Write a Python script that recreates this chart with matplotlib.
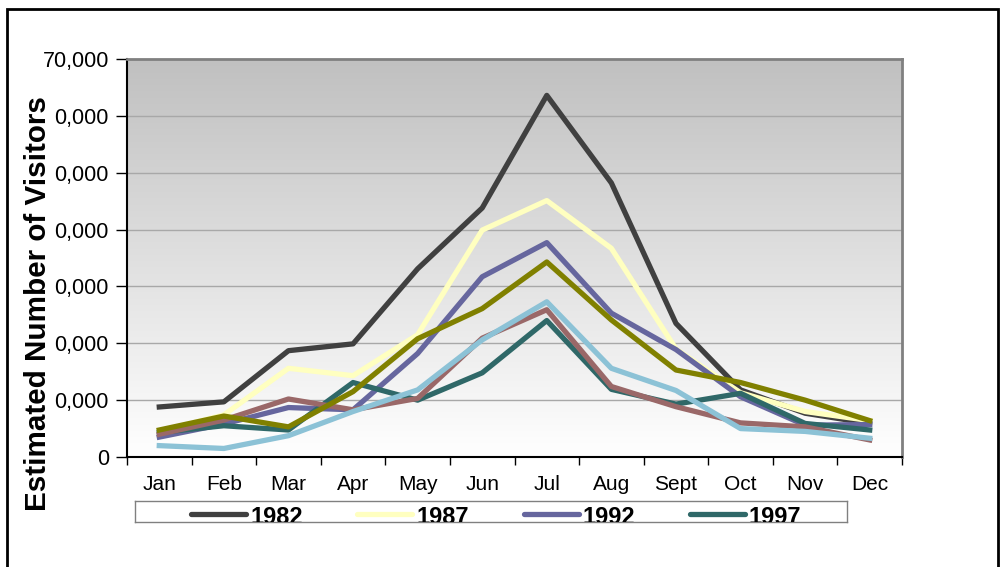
import matplotlib
matplotlib.use("Agg")
import matplotlib.pyplot as plt
import numpy as np
from matplotlib.colors import LinearSegmentedColormap
from matplotlib.patches import Rectangle

plt.rcParams["font.family"] = ["Liberation Sans", "DejaVu Sans"]

months = ["Jan", "Feb", "Mar", "Apr", "May", "Jun",
          "Jul", "Aug", "Sept", "Oct", "Nov", "Dec"]

visitors_1982 = [8800, 9700, 18700, 19900, 33100, 43800, 63600, 48200, 23500, 11800, 7700, 5900]
visitors_1987 = [4500, 7400, 15600, 14300, 21500, 39900, 45100, 36700, 19000, 11300, 8000, 6400]
visitors_1992 = [3500, 5800, 8700, 8300, 18200, 31700, 37700, 25300, 18900, 10600, 5600, 5700]
visitors_1997 = [4300, 5500, 4750, 13100, 10000, 14800, 24000, 11900, 9300, 11200, 5900, 4750]
visitors_2002 = [4000, 6500, 10200, 8300, 10300, 20900, 25900, 12400, 8850, 6000, 5300, 3000]
visitors_2007 = [4750, 7200, 5300, 11500, 20800, 26100, 34300, 24100, 15300, 13100, 10000, 6400]
visitors_2012 = [2000, 1500, 3750, 8000, 11800, 20600, 27300, 15600, 11700, 5000, 4500, 3300]

series_names = ["1982", "1987", "1992", "1997", "2002", "2007", "2012"]
series_values = [visitors_1982, visitors_1987, visitors_1992, visitors_1997,
                 visitors_2002, visitors_2007, visitors_2012]
series_colors = ["#404040", "#ffffc0", "#66669e", "#2f6868",
                 "#9a6868", "#808000", "#8cc2d6"]

# only the first four years fit in the legend strip
legend_names = series_names[:4]

y_ticks = [0, 10000, 20000, 30000, 40000, 50000, 60000, 70000]
y_tick_labels = ["0", "0,000", "0,000", "0,000", "0,000", "0,000", "0,000", "70,000"]

fig = plt.figure(figsize=(10, 5.67), dpi=100)
fig.patch.set_facecolor("white")

# outer chart border (bottom edge runs off the canvas)
fig.patches.append(Rectangle((7 / 1000, -0.05), 991 / 1000, 1.05 - 9 / 567,
                             transform=fig.transFigure, fill=False,
                             edgecolor="black", linewidth=2))

ax = fig.add_axes([127 / 1000, 1 - 457 / 567, 775 / 1000, 398 / 567])

x = np.arange(len(months))

# grey-to-white plot area fill
fill_cmap = LinearSegmentedColormap.from_list("plotfill", ["#c0c0c0", "#ffffff"])
ax.imshow(np.linspace(0, 1, 256).reshape(-1, 1), cmap=fill_cmap, aspect="auto",
          extent=[-0.5, len(months) - 0.5, 0, 70000], origin="upper", zorder=-2)

for values, color in zip(series_values, series_colors):
    ax.plot(x, values, color=color, linewidth=3.8, zorder=3)

ax.set_xlim(-0.5, len(months) - 0.5)
ax.set_ylim(0, 70000)

ax.set_yticks(y_ticks)
ax.set_yticklabels(y_tick_labels)
ax.yaxis.grid(True, color="#a8a8a8", linewidth=1)
ax.set_axisbelow(True)

# category ticks sit between months, labels at the month centres
ax.set_xticks(np.arange(-0.5, len(months)), minor=False)
ax.set_xticklabels([])
ax.set_xticks(x, minor=True)
ax.set_xticklabels(months, minor=True)
ax.tick_params(axis="x", which="major", direction="out", length=6, width=1, color="black")
ax.tick_params(axis="x", which="minor", length=0, pad=13, labelsize=15)
ax.tick_params(axis="y", direction="out", length=8, width=1, pad=5, labelsize=15.5)

for side in ["left", "bottom"]:
    ax.spines[side].set_color("black")
    ax.spines[side].set_linewidth(1.5)
for side in ["top", "right"]:
    ax.spines[side].set_color("#808080")
    ax.spines[side].set_linewidth(2)

fig.text(38 / 1000, 1 - 304 / 567, "Estimated Number of Visitors",
         rotation=90, ha="center", va="center", fontsize=21.3, fontweight="bold")

# legend strip drawn in pixel units so the labels clip at its lower edge
leg = fig.add_axes([135 / 1000, 1 - 522 / 567, 712 / 1000, 21 / 567])
leg.set_xlim(0, 712)
leg.set_ylim(0, 21)
leg.set_xticks([])
leg.set_yticks([])
leg.set_facecolor("white")
for spine in leg.spines.values():
    spine.set_color("#808080")
    spine.set_linewidth(1)

entry_starts = [56, 222, 389, 555]
for start, name, color in zip(entry_starts, legend_names, series_colors):
    leg.plot([start, start + 55], [8, 8], color=color, linewidth=3.8,
             solid_capstyle="round")
    leg.text(start + 59, -1.5, name, fontsize=17, fontweight="bold",
             ha="left", va="baseline", clip_on=True)

fig.savefig("out.png", dpi=100)
